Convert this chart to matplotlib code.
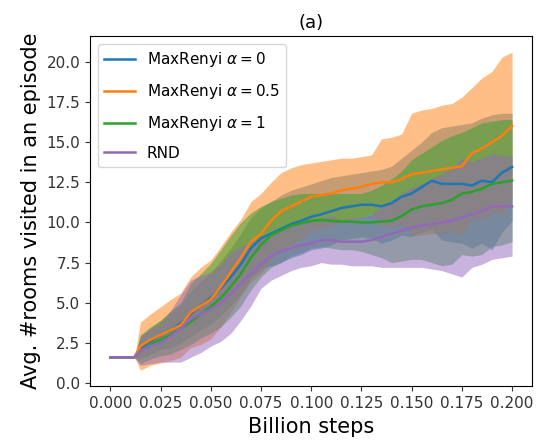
import matplotlib
matplotlib.use("Agg")
import matplotlib.pyplot as plt

# billion steps
steps = [0.0, 0.012, 0.015, 0.02, 0.025, 0.03, 0.035, 0.04, 0.045, 0.05,
         0.055, 0.06, 0.065, 0.07, 0.075, 0.08, 0.085, 0.09, 0.095, 0.1,
         0.105, 0.11, 0.115, 0.12, 0.125, 0.13, 0.135, 0.14, 0.145, 0.15,
         0.155, 0.16, 0.165, 0.17, 0.175, 0.18, 0.185, 0.19, 0.195, 0.2]

# MaxRenyi alpha = 0
a0_mean = [1.6, 1.6, 2.2, 2.6, 3.0, 3.3, 3.7, 4.3, 4.8, 5.3,
           5.9, 6.6, 7.4, 8.4, 9.0, 9.3, 9.6, 9.9, 10.1, 10.35,
           10.5, 10.7, 10.9, 11.0, 11.1, 11.1, 11.0, 11.2, 11.6, 11.8,
           12.2, 12.6, 12.4, 12.4, 12.4, 12.3, 12.6, 12.5, 13.1, 13.45]
a0_hi = [1.6, 1.6, 2.9, 3.4, 3.9, 4.4, 4.9, 5.7, 6.3, 6.9,
         7.6, 8.4, 9.3, 10.3, 10.9, 11.3, 11.7, 12.0, 12.2, 12.4,
         12.6, 12.8, 12.9, 13.0, 13.1, 13.2, 13.3, 13.5, 14.0, 14.5,
         15.0, 15.6, 15.9, 16.0, 16.1, 16.2, 16.5, 16.7, 16.8, 16.8]
a0_lo = [1.6, 1.6, 1.5, 1.8, 2.1, 2.2, 2.5, 2.9, 3.3, 3.7,
         4.2, 4.8, 5.5, 6.5, 7.1, 7.3, 7.5, 7.8, 8.0, 8.3,
         8.4, 8.6, 8.9, 9.0, 9.1, 9.0, 8.7, 8.9, 9.2, 9.1,
         9.4, 9.6, 8.9, 8.8, 8.7, 8.4, 8.7, 8.3, 9.4, 10.1]

# MaxRenyi alpha = 0.5
a05_mean = [1.6, 1.6, 2.3, 2.7, 3.0, 3.3, 3.6, 4.4, 4.8, 5.2,
            6.0, 6.9, 7.8, 8.8, 9.3, 10.1, 10.7, 11.0, 11.3, 11.6,
            11.7, 11.8, 12.0, 12.1, 12.2, 12.4, 12.5, 12.5, 12.7, 13.0,
            13.1, 13.2, 13.3, 13.4, 13.5, 14.3, 14.6, 15.0, 15.4, 16.0]
a05_hi = [1.6, 1.6, 3.8, 4.3, 4.75, 5.2, 5.6, 6.6, 7.2, 7.65,
          8.5, 9.4, 10.2, 11.3, 11.8, 12.5, 13.1, 13.4, 13.6, 13.7,
          13.8, 13.9, 14.0, 14.0, 14.1, 14.2, 15.2, 15.3, 15.5, 16.8,
          17.0, 17.1, 17.3, 17.4, 17.8, 18.4, 19.0, 19.4, 20.3, 20.6]
a05_lo = [1.6, 1.6, 0.8, 1.1, 1.25, 1.4, 1.6, 2.2, 2.4, 2.75,
          3.5, 4.4, 5.4, 6.3, 6.8, 7.7, 8.3, 8.6, 9.0, 9.5,
          9.6, 9.7, 10.0, 10.2, 10.3, 10.6, 9.8, 9.7, 9.9, 9.2,
          9.2, 9.3, 9.3, 9.4, 9.2, 10.2, 10.2, 10.6, 10.5, 11.4]

# MaxRenyi alpha = 1
a1_mean = [1.6, 1.6, 2.0, 2.4, 2.7, 3.0, 3.4, 3.8, 4.3, 4.75,
           5.3, 6.0, 6.8, 7.8, 8.6, 9.2, 9.5, 9.8, 9.95, 10.1,
           10.15, 10.1, 10.05, 10.05, 10.0, 10.0, 10.05, 10.1, 10.4, 10.8,
           11.0, 11.1, 11.2, 11.4, 11.8, 11.9, 12.1, 12.4, 12.5, 12.6]
a1_hi = [1.6, 1.6, 3.0, 3.5, 3.9, 4.5, 5.0, 6.2, 6.8, 7.45,
         8.3, 9.2, 10.0, 10.6, 11.0, 11.3, 11.5, 11.7, 11.8, 11.8,
         11.8, 11.8, 11.8, 11.8, 11.8, 12.0, 12.3, 12.7, 13.2, 13.9,
         14.3, 14.7, 15.1, 15.4, 15.6, 15.9, 16.2, 16.3, 16.4, 16.4]
a1_lo = [1.6, 1.6, 1.2, 1.5, 1.7, 1.8, 2.1, 2.4, 2.8, 3.1,
         3.5, 4.1, 4.8, 5.8, 6.6, 7.2, 7.5, 7.9, 8.1, 8.4,
         8.5, 8.4, 8.3, 8.3, 8.2, 8.0, 7.8, 7.5, 7.6, 7.7,
         7.7, 7.5, 7.3, 7.4, 8.0, 7.9, 8.0, 8.5, 8.6, 8.8]

# RND
rnd_mean = [1.6, 1.6, 2.0, 2.3, 2.5, 2.9, 3.4, 4.0, 4.3, 4.6,
            5.0, 5.6, 6.2, 6.8, 7.4, 7.9, 8.2, 8.4, 8.6, 8.7,
            8.9, 8.9, 8.8, 8.8, 8.8, 8.9, 9.1, 9.3, 9.5, 9.7,
            9.8, 9.9, 10.0, 10.1, 10.3, 10.5, 10.7, 11.0, 11.0, 11.0]
rnd_hi = [1.6, 1.6, 2.9, 3.4, 3.7, 4.5, 5.5, 6.4, 6.7, 6.9,
          7.4, 8.1, 8.5, 8.8, 8.9, 9.4, 9.7, 9.8, 10.0, 10.1,
          10.3, 10.4, 10.2, 10.3, 10.3, 10.5, 11.0, 11.4, 11.8, 12.2,
          12.4, 12.7, 13.0, 13.4, 14.0, 13.8, 14.0, 14.3, 14.2, 14.1]
rnd_lo = [1.6, 1.6, 1.1, 1.2, 1.3, 1.3, 1.3, 1.6, 1.9, 2.3,
          2.6, 3.1, 3.9, 4.8, 5.9, 6.4, 6.7, 7.0, 7.2, 7.3,
          7.5, 7.4, 7.4, 7.3, 7.3, 7.3, 7.2, 7.2, 7.2, 7.2,
          7.2, 7.1, 7.0, 6.8, 6.6, 7.2, 7.4, 7.7, 7.8, 7.9]

series = [
    (r"MaxRenyi $\alpha=0$", a0_mean, a0_lo, a0_hi, "C0"),
    (r"MaxRenyi $\alpha=0.5$", a05_mean, a05_lo, a05_hi, "C1"),
    (r"MaxRenyi $\alpha=1$", a1_mean, a1_lo, a1_hi, "C2"),
    ("RND", rnd_mean, rnd_lo, rnd_hi, "C4"),
]

fig = plt.figure(figsize=(5.37, 4.46), dpi=100)
ax = fig.add_axes([0.168, 0.134, 0.823, 0.785])

for label, m, lo, hi, c in series:
    ax.fill_between(steps, lo, hi, color=c, alpha=0.5, linewidth=0, zorder=1)
for label, m, lo, hi, c in series:
    ax.plot(steps, m, color=c, linewidth=1.8, label=label, zorder=2)

ax.set_xlim(-0.01, 0.21)
ax.set_ylim(-0.2, 21.6)
ax.set_xticks([0.0, 0.025, 0.05, 0.075, 0.1, 0.125, 0.15, 0.175, 0.2])
ax.set_yticks([0.0, 2.5, 5.0, 7.5, 10.0, 12.5, 15.0, 17.5, 20.0])
ax.tick_params(labelsize=11, colors="#333333")
ax.set_title("(a)", fontsize=13)
ax.set_xlabel("Billion steps", fontsize=15)
ax.set_ylabel("Avg. #rooms visited in an episode", fontsize=15)
ax.legend(loc="upper left", fontsize=11, labelspacing=0.85)

fig.savefig("out.png", dpi=100)
